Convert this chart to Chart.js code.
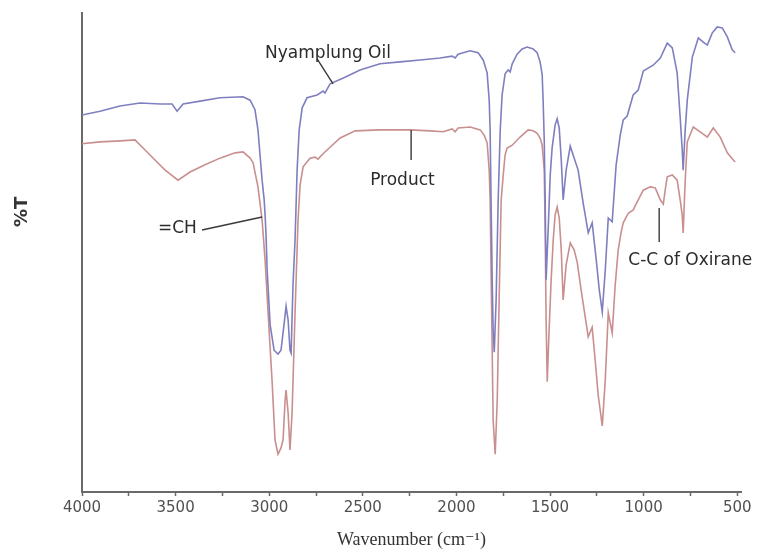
<!DOCTYPE html>
<html>
<head>
<meta charset="utf-8">
<script src="https://cdn.jsdelivr.net/npm/chart.js@4/dist/chart.umd.min.js"></script>
<style>
  html, body { margin: 0; padding: 0; background: #ffffff; }
  #wrap { width: 760px; height: 555px; }
</style>
</head>
<body>
<div id="wrap"><canvas id="c" width="760" height="555"></canvas></div>
<script>
// ---- Data ----
const tickValues = [4000, 3750, 3500, 3250, 3000, 2750, 2500, 2250, 2000, 1750, 1500, 1250, 1000, 750, 500];
const tickLabels = ['4000', '', '3500', '', '3000', '', '2500', '', '2000', '', '1500', '', '1000', '', '500'];

const oilWavenumber = [4000,3904,3797,3690,3583,3519,3492,3460,3369,3263,3140,3102,3076,3060,3038,3027,3022,3017,3011,2995,2974,2953,2937,2921,2910,2899,2889,2883,2873,2862,2851,2840,2824,2798,2744,2712,2702,2675,2595,2515,2408,2301,2194,2087,2023,2007,1991,1927,1884,1857,1836,1825,1820,1815,1809,1804,1798,1788,1777,1766,1756,1740,1724,1713,1702,1676,1649,1622,1590,1569,1553,1542,1537,1531,1526,1521,1510,1499,1489,1473,1462,1451,1440,1430,1414,1392,1371,1350,1323,1296,1275,1253,1237,1221,1205,1189,1168,1147,1125,1109,1088,1056,1029,1002,976,949,911,874,847,821,805,794,789,778,767,740,708,682,660,634,607,580,553,527,511];
const oilT = [78.7,79.5,80.6,81.2,81.0,81.0,79.5,81.0,81.6,82.3,82.5,81.8,79.8,75.6,65.1,61.0,57.8,53.7,46.3,34.9,29.6,28.8,29.6,34.9,38.8,35.9,29.6,29.0,43.2,52.6,67.2,75.6,80.2,82.3,82.9,83.7,83.3,85.2,86.6,88.1,89.4,89.8,90.2,90.6,91.0,90.6,91.4,92.1,91.7,90.2,87.5,81.8,75.6,61.0,44.3,33.8,29.2,40.1,61.0,75.6,82.9,87.3,88.1,87.7,89.4,91.4,92.5,92.9,92.5,91.7,89.8,87.1,81.8,73.5,61.0,44.3,54.7,66.2,71.8,76.6,77.9,76.0,69.3,61.0,67.2,72.2,69.7,67.2,60.3,54.1,56.2,48.4,42.2,37.6,46.3,57.2,56.4,68.3,74.5,77.7,78.5,82.9,83.9,87.9,88.5,89.1,90.6,93.7,92.7,87.5,78.3,71.4,67.2,75.6,81.8,90.8,94.8,93.9,93.3,95.8,97.1,96.9,95.0,92.3,91.7];

const productWavenumber = [4000,3904,3797,3717,3663,3610,3556,3487,3423,3343,3263,3182,3140,3102,3086,3060,3038,3022,3006,2985,2969,2953,2937,2926,2915,2910,2899,2889,2878,2862,2846,2835,2819,2782,2755,2739,2718,2691,2621,2541,2408,2247,2140,2071,2023,2007,1991,1927,1873,1852,1836,1825,1820,1815,1809,1804,1793,1782,1772,1761,1750,1740,1729,1702,1660,1617,1590,1569,1553,1542,1531,1526,1521,1515,1505,1494,1483,1473,1462,1451,1440,1430,1414,1392,1371,1355,1334,1312,1296,1275,1259,1243,1221,1205,1189,1168,1152,1136,1120,1109,1082,1056,1029,1002,965,938,911,895,885,874,847,821,805,794,789,778,767,735,698,660,628,591,553,521,511];
const productT = [72.7,73.1,73.3,73.5,71.4,69.3,67.2,65.1,66.8,68.3,69.7,70.8,71.0,69.7,68.7,63.7,56.8,48.4,37.4,23.4,10.9,7.9,9.2,10.9,19.2,21.3,16.5,8.8,16.5,37.4,56.8,64.1,67.9,69.7,69.9,69.5,70.4,71.4,73.9,75.4,75.6,75.6,75.4,75.2,75.8,75.2,76.0,76.2,75.6,74.5,72.9,67.2,61.0,46.3,29.6,15.0,7.9,19.2,40.1,61.0,66.2,70.4,71.8,72.4,74.1,75.6,75.4,74.9,73.9,72.4,67.2,54.7,35.9,23.0,33.8,44.3,52.6,57.8,59.5,57.2,50.5,40.1,47.4,52.0,50.5,48.0,42.2,36.5,32.4,34.4,27.6,20.3,13.8,23.4,37.4,33.2,43.2,50.5,54.3,56.2,58.2,58.9,61.0,63.0,63.7,63.5,61.0,60.1,63.0,65.8,66.2,65.1,61.0,57.8,54.1,65.1,73.1,76.2,75.2,74.1,76.0,74.1,70.8,69.3,68.9];

// annotation anchors in data coordinates: [wavenumber, %T]
const annotationTexts = ['Nyamplung Oil', 'Product', '=CH', 'C-C of Oxirane'];
const annotationTextAt = [[3022, 90.6], [2461, 64.1], [3594, 54.1], [1082, 47.4]];
const annotationLineFrom = [[2744, 90.4], [2242, 75.6], [3359, 54.7], [917, 59.3]];
const annotationLineTo = [[2659, 85.2], [2242, 69.3], [3038, 57.4], [917, 52.2]];
const yTitleAt = 58.5;

const toPoints = (xs, ys) => xs.map((x, i) => ({ x: x, y: ys[i] }));

const annotationPlugin = {
  id: 'ftirLabels',
  afterDatasetsDraw(chart) {
    const ctx = chart.ctx;
    const xs = chart.scales.x, ys = chart.scales.y;
    ctx.save();
    ctx.strokeStyle = '#3a3a3a';
    ctx.lineWidth = 1.4;
    annotationLineFrom.forEach((p, i) => {
      const q = annotationLineTo[i];
      ctx.beginPath();
      ctx.moveTo(xs.getPixelForValue(p[0]), ys.getPixelForValue(p[1]));
      ctx.lineTo(xs.getPixelForValue(q[0]), ys.getPixelForValue(q[1]));
      ctx.stroke();
    });
    ctx.fillStyle = '#2b2b2b';
    ctx.font = '17px "DejaVu Sans", sans-serif';
    ctx.textAlign = 'left';
    ctx.textBaseline = 'alphabetic';
    annotationTexts.forEach((t, i) => {
      const p = annotationTextAt[i];
      ctx.fillText(t, xs.getPixelForValue(p[0]), ys.getPixelForValue(p[1]));
    });
    // y axis title
    ctx.translate(ys.left + 22, ys.getPixelForValue(yTitleAt));
    ctx.rotate(-Math.PI / 2);
    ctx.textAlign = 'center';
    ctx.textBaseline = 'middle';
    ctx.fillStyle = '#333333';
    ctx.font = 'bold 18px "DejaVu Sans", sans-serif';
    ctx.fillText('%T', 0, 0);
    ctx.restore();
  }
};

new Chart(document.getElementById('c'), {
  type: 'line',
  data: {
    datasets: [
      {
        label: 'Nyamplung Oil',
        data: toPoints(oilWavenumber, oilT),
        borderColor: '#7f7fbf',
        borderWidth: 1.6,
        pointRadius: 0,
        tension: 0,
        fill: false
      },
      {
        label: 'Product',
        data: toPoints(productWavenumber, productT),
        borderColor: '#c98f8f',
        borderWidth: 1.6,
        pointRadius: 0,
        tension: 0,
        fill: false
      }
    ]
  },
  options: {
    responsive: false,
    animation: false,
    devicePixelRatio: 1,
    layout: { padding: { top: 13, right: 19, bottom: 0, left: 0 } },
    plugins: { legend: { display: false }, tooltip: { enabled: false } },
    scales: {
      x: {
        type: 'linear',
        reverse: true,
        min: 480,
        max: 4000,
        afterBuildTicks: (scale) => { scale.ticks = tickValues.map(v => ({ value: v })); },
        afterFit: (scale) => { scale.height = 63; },
        ticks: {
          autoSkip: false,
          maxRotation: 0,
          padding: 3,
          color: '#505050',
          font: { family: '"DejaVu Sans", sans-serif', size: 15 },
          callback: (v) => { const i = tickValues.indexOf(v); return i >= 0 ? tickLabels[i] : ''; }
        },
        grid: { drawOnChartArea: false, drawTicks: true, tickLength: 4, tickColor: '#6a6a6a', tickWidth: 1.5 },
        border: { display: true, color: '#6a6a6a', width: 2 },
        title: {
          display: true,
          text: 'Wavenumber (cm⁻¹)',
          color: '#333333',
          font: { family: '"Liberation Serif", "DejaVu Serif", serif', size: 18 },
          padding: { top: 0, bottom: 4 }
        }
      },
      y: {
        type: 'linear',
        min: 0,
        max: 100,
        afterFit: (scale) => { scale.width = 82; },
        ticks: { display: false },
        grid: { display: false, drawTicks: false },
        border: { display: true, color: '#6a6a6a', width: 2 },
        title: { display: false }
      }
    }
  },
  plugins: [annotationPlugin]
});
</script>
</body>
</html>
